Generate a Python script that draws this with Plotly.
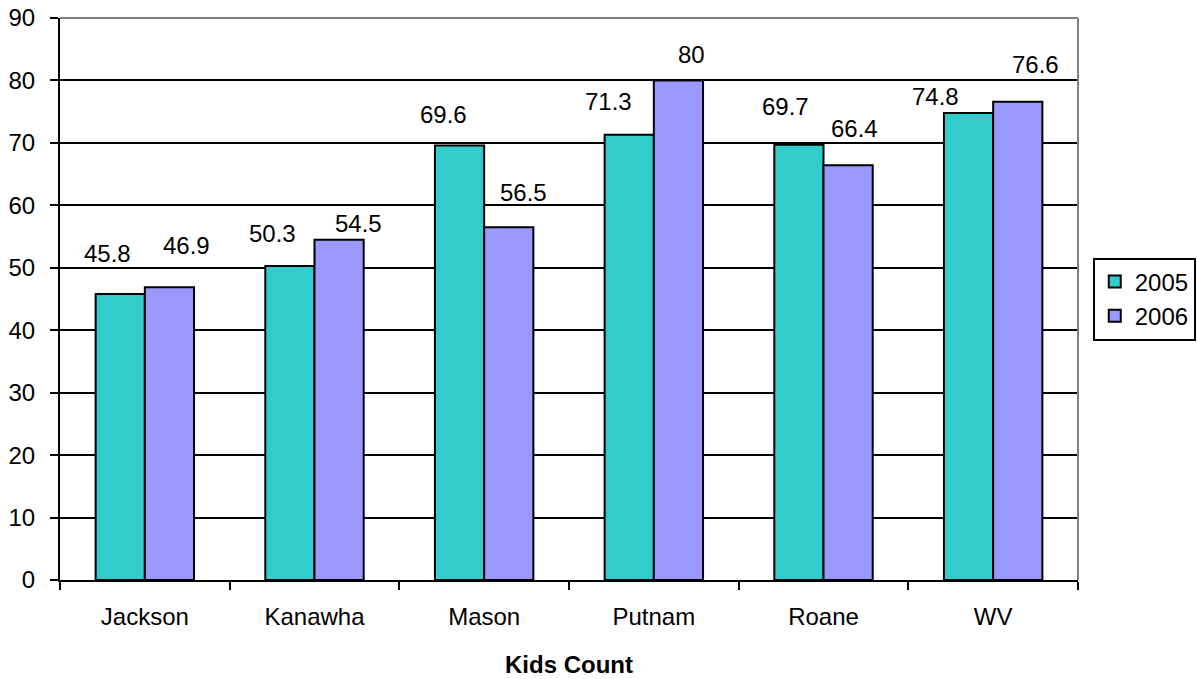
import plotly.graph_objects as go

counties = ["Jackson", "Kanawha", "Mason", "Putnam", "Roane", "WV"]
vals_2005 = [45.8, 50.3, 69.6, 71.3, 69.7, 74.8]
vals_2006 = [46.9, 54.5, 56.5, 80, 66.4, 76.6]

# pixel nudges of the value labels (they were hand placed in the original)
nudge_x_2005 = [-37, -42, -41, -45, -38, -58]
nudge_y_2005 = [41, 32, 31, 33, 38, 16]
nudge_x_2006 = [42, 44, 39, 38, 31, 42]
nudge_y_2006 = [42, 16, 35, 26, 37, 37]

FONT = "Liberation Sans, Arial, sans-serif"

fig = go.Figure()
fig.add_trace(go.Bar(x=counties, y=vals_2005, name="2005",
                     marker=dict(color="#33CCCC", line=dict(color="black", width=2))))
fig.add_trace(go.Bar(x=counties, y=vals_2006, name="2006",
                     marker=dict(color="#9999FF", line=dict(color="black", width=2))))

annots = []
for vals, nx, ny in [(vals_2005, nudge_x_2005, nudge_y_2005),
                     (vals_2006, nudge_x_2006, nudge_y_2006)]:
    for c, v, dx, dy in zip(counties, vals, nx, ny):
        annots.append(dict(x=c, y=v, text=str(v), showarrow=False, xshift=dx, yshift=dy,
                           font=dict(size=24, color="black", family=FONT)))

fig.update_layout(
    width=1197, height=679,
    margin=dict(l=60, r=119, t=18, b=99, autoexpand=False),
    plot_bgcolor="white", paper_bgcolor="white",
    font=dict(family=FONT, size=24, color="black"),
    barmode="group", bargap=0.42, bargroupgap=0,
    annotations=annots,
    showlegend=True,
    legend=dict(x=1.0145, y=0.5, xanchor="left", yanchor="middle",
                bordercolor="black", borderwidth=2, bgcolor="white",
                font=dict(size=24, family=FONT), itemwidth=30),
    xaxis=dict(title=dict(text="<b>Kids Count</b>", font=dict(size=24), standoff=27),
               automargin=False,
               showline=True, linecolor="black", linewidth=2,
               ticks="outside", tickson="boundaries", ticklen=8, tickwidth=2, tickcolor="black",
               ticklabelstandoff=14, showgrid=False),
    yaxis=dict(range=[0, 90], dtick=10, automargin=False, ticklabeloverflow="allow",
               showline=True, linecolor="black", linewidth=2,
               ticks="outside", ticklen=8, tickwidth=2, tickcolor="black",
               ticklabelstandoff=10,
               showgrid=True, gridcolor="black", gridwidth=1.5, zeroline=False),
    shapes=[
        dict(type="line", xref="paper", yref="paper", x0=0, x1=1, y0=1, y1=1,
             line=dict(color="gray", width=2)),
        dict(type="line", xref="paper", yref="paper", x0=1, x1=1, y0=0, y1=1,
             line=dict(color="gray", width=2)),
    ],
)

# drop the default 8px body margin so the figure fills the window exactly
fig.write_html("out.html", config={"displayModeBar": False},
               post_script="document.body.style.margin='0';")
